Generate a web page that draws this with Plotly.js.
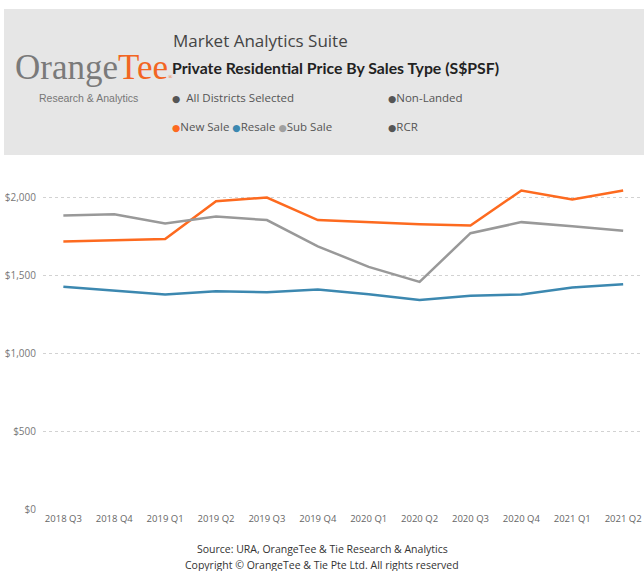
<!DOCTYPE html>
<html><head><meta charset="utf-8">
<script src="https://cdn.plot.ly/plotly-3.0.1.min.js"></script>
<style>html,body{margin:0;padding:0;background:#fff;}#chart{width:644px;height:571px;}</style>
</head><body><div id="chart"></div>
<script>
const quarters = ["2018 Q3","2018 Q4","2019 Q1","2019 Q2","2019 Q3","2019 Q4","2020 Q1","2020 Q2","2020 Q3","2020 Q4","2021 Q1","2021 Q2"];
const newSale = [1716,1722,1731,1974,1998,1853,1838,1827,1818,2043,1985,2043];
const resale  = [1425,1399,1376,1397,1391,1408,1378,1340,1367,1376,1421,1442];
const subSale = [1883,1891,1831,1876,1853,1685,1553,1457,1769,1840,1814,1784];
const yTicks = [0,500,1000,1500,2000];
const yTickText = ["$0","$500","$1,000","$1,500","$2,000"];

const L=43, R=643, T=166, B=509;
const px = x => (x-L)/(R-L);
const py = y => (B-y)/(B-T);
const font = "'Open Sans', 'Segoe UI', sans-serif";
const dot = c => "<span style='color:"+c+";font-family:DejaVu Sans;font-size:9.5px'>●</span>";

function ann(x,y,text,size,color,extra){
  return Object.assign({xref:'paper',yref:'paper',x:px(x),y:py(y),text:text,showarrow:false,
    xanchor:'left',yanchor:'middle',font:{family:font,size:size,color:color}},extra||{});
}

const traces = [
  {x:quarters,y:newSale,name:'New Sale',type:'scatter',mode:'lines',line:{color:'#fd6a1f',width:2.5}},
  {x:quarters,y:resale,name:'Resale',type:'scatter',mode:'lines',line:{color:'#3c88b0',width:2.5}},
  {x:quarters,y:subSale,name:'Sub Sale',type:'scatter',mode:'lines',line:{color:'#999999',width:2.5}}
];

const layout = {
  width:644,height:571,
  margin:{l:L,r:644-R,t:T,b:571-B,pad:0},
  paper_bgcolor:'#ffffff',plot_bgcolor:'#ffffff',
  showlegend:false,
  xaxis:{type:'category',range:[-0.4,11.39],showgrid:false,zeroline:false,showline:false,ticks:'',
    tickfont:{family:font,size:9.5,color:'#666'},ticklabelstandoff:2},
  yaxis:{range:[0,2200],tickmode:'array',tickvals:yTicks,ticktext:yTickText,showgrid:true,gridcolor:'#d2d2d2',griddash:'dot',gridwidth:1,
    zeroline:false,showline:false,ticks:'',tickfont:{family:font,size:10,color:'#777'},ticklabelstandoff:6},
  shapes:[
    {type:'rect',xref:'paper',yref:'paper',x0:px(4),x1:px(645),y0:py(155),y1:py(9),fillcolor:'#e6e6e6',line:{width:0},layer:'below'}
  ],
  annotations:[
    ann(13,67,"<span style='color:#7a7a7a'>Orange</span><span style='color:#f26522'>Tee</span><span style='color:#f26522;font-size:6px'>®</span>",35,'#7a7a7a',{font:{family:"'Liberation Serif', serif",size:35,color:'#7a7a7a'}}),
    ann(37,98,"Research &amp; Analytics",10.5,'#777',{font:{family:"'Liberation Sans', Arial, sans-serif",size:10.5,color:'#777'}}),
    ann(171,40,"Market Analytics Suite",17,'#444'),
    ann(170,68,"<b>Private Residential Price By Sales Type (S$PSF)</b>",15.8,'#222',{font:{family:"Lato, sans-serif",size:15.8,color:'#222'}}),
    ann(170,97,dot('#555')+"  All Districts Selected",11.5,'#555'),
    ann(386,98,dot('#555')+"Non-Landed",11.5,'#555'),
    ann(170,127,dot('#fd6a1f')+"New Sale "+dot('#3c88b0')+"Resale "+dot('#a0a0a0')+"Sub Sale",11.5,'#555'),
    ann(386,127,dot('#555')+"RCR",11.5,'#555'),
    ann(322,549,"Source: URA, OrangeTee &amp; Tie Research &amp; Analytics",10.5,'#333',{xanchor:'center'}),
    ann(322,565,"Copyright © OrangeTee &amp; Tie Pte Ltd. All rights reserved",10.5,'#333',{xanchor:'center'})
  ]
};
Plotly.newPlot('chart',traces,layout,{displayModeBar:false,staticPlot:true});
</script></body></html>
